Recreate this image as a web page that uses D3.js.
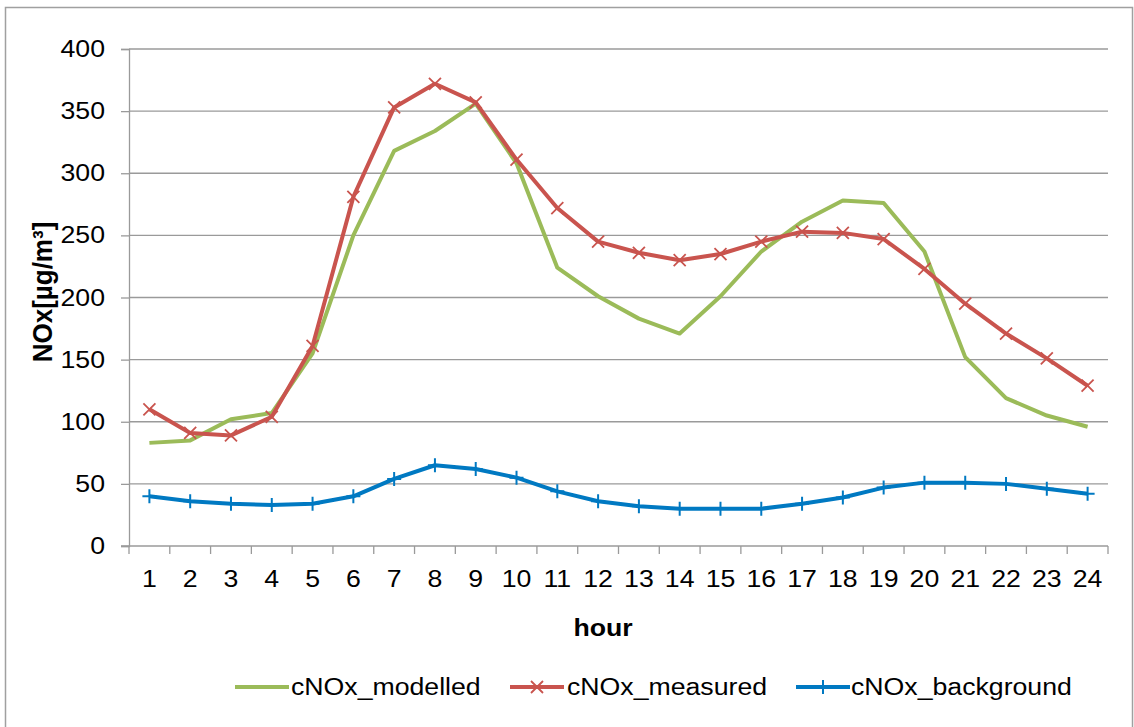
<!DOCTYPE html>
<html>
<head>
<meta charset="utf-8">
<script src="https://cdn.jsdelivr.net/npm/d3@7"></script>
<style>
  html, body { margin: 0; padding: 0; background: #fff; }
  svg { display: block; font-family: "Liberation Sans", Arial, sans-serif; }
</style>
</head>
<body>
<svg id="chart" width="1134" height="727"></svg>
<script>
// Hourly NOx concentrations
const hours = d3.range(1, 25).map(String);
const modelled = [83, 85, 102, 107, 155, 250, 318, 334, 356, 308, 224, 201, 183, 171, 201, 237, 261, 278, 276, 237, 152, 119, 105, 96];
const measured = [110, 91, 89, 104, 161, 281, 353, 372, 357, 311, 272, 245, 236, 230, 235, 245, 253, 252, 247, 223, 195, 171, 151, 129];
const background = [40, 36, 34, 33, 34, 40, 54, 65, 62, 55, 44, 36, 32, 30, 30, 30, 34, 39, 47, 51, 51, 50, 46, 42];
const yTicks = [0, 50, 100, 150, 200, 250, 300, 350, 400];

const series = [
  { name: "cNOx_modelled", values: modelled, color: "#9BBB59", marker: null },
  { name: "cNOx_measured", values: measured, color: "#C9544E", marker: "x" },
  { name: "cNOx_background", values: background, color: "#0079C2", marker: "+" }
];

const FONT = 23;      // label font size
const SX = 1.16;      // horizontal glyph stretch

const svg = d3.select("#chart");
const plot = { left: 129, right: 1108, top: 49, bottom: 546 };

// text helper: anchored at (px, py) with horizontal stretch
function label(parent, px, py, str, anchor, bold) {
  return parent.append("text")
    .attr("transform", `translate(${px},${py}) scale(${SX},1)`)
    .attr("text-anchor", anchor)
    .attr("font-size", FONT)
    .attr("font-weight", bold ? "bold" : "normal")
    .attr("fill", "#000")
    .text(str);
}

// outer frame
svg.append("rect")
  .attr("x", 5.5).attr("y", 7.5)
  .attr("width", 1127).attr("height", 740)
  .attr("fill", "none").attr("stroke", "#A0A0A0").attr("stroke-width", 1.5);

const x = d3.scaleBand().domain(hours).range([plot.left, plot.right]);
const y = d3.scaleLinear().domain([0, 400]).range([plot.bottom, plot.top]);

// horizontal gridlines
svg.append("g")
  .selectAll("line")
  .data(yTicks.filter(d => d > 0))
  .join("line")
  .attr("x1", plot.left).attr("x2", plot.right)
  .attr("y1", d => y(d)).attr("y2", d => y(d))
  .attr("stroke", "#9A9A9A").attr("stroke-width", 1.3);

// y axis (line and ticks from d3, labels drawn with stretch)
const yAxis = svg.append("g")
  .attr("transform", `translate(${plot.left},0)`)
  .call(d3.axisLeft(y).tickValues(yTicks).tickSize(8).tickFormat(""));
yAxis.select(".domain").attr("stroke", "#9A9A9A").attr("stroke-width", 1.3);
yAxis.selectAll(".tick line").attr("stroke", "#9A9A9A").attr("stroke-width", 1.3);
const yLabels = svg.append("g");
yTicks.forEach(t => label(yLabels, 105, y(t) + 8, String(t), "end", false));

// x axis: category ticks at band boundaries
const xAxisG = svg.append("g").attr("transform", `translate(0,${plot.bottom})`);
xAxisG.append("line")
  .attr("x1", plot.left - 8).attr("x2", plot.right)
  .attr("stroke", "#9A9A9A").attr("stroke-width", 1.3);
const bounds = hours.map(h => x(h)).concat([plot.right]);
xAxisG.selectAll("line.tick")
  .data(bounds)
  .join("line")
  .attr("class", "tick")
  .attr("x1", d => d).attr("x2", d => d)
  .attr("y1", 0).attr("y2", 8)
  .attr("stroke", "#9A9A9A").attr("stroke-width", 1.3);
hours.forEach(h => label(xAxisG, x(h) + x.bandwidth() / 2, 41, h, "middle", false));

// axis titles
label(svg, 603, 636, "hour", "middle", true);
svg.append("text")
  .attr("transform", "translate(52,292) rotate(-90) scale(1,1.06)")
  .attr("text-anchor", "middle")
  .attr("font-size", 26).attr("font-weight", "bold")
  .text("NOx[µg/m³]");

// series lines and markers
const cx = i => x(hours[i]) + x.bandwidth() / 2;
const line = d3.line().x((d, i) => cx(i)).y(d => y(d));

function drawMarker(g, type, px, py, color) {
  const s = 6;
  if (type === "x") {
    g.append("path")
      .attr("d", `M${px - s},${py - s}L${px + s},${py + s}M${px - s},${py + s}L${px + s},${py - s}`)
      .attr("stroke", color).attr("stroke-width", 1.8).attr("fill", "none");
  } else if (type === "+") {
    g.append("path")
      .attr("d", `M${px},${py - 7}L${px},${py + 7}M${px - 7},${py}L${px + 7},${py}`)
      .attr("stroke", color).attr("stroke-width", 2).attr("fill", "none");
  }
}

series.forEach(s => {
  const g = svg.append("g");
  g.append("path")
    .datum(s.values)
    .attr("d", line)
    .attr("fill", "none")
    .attr("stroke", s.color)
    .attr("stroke-width", 4)
    .attr("stroke-linejoin", "round");
  if (s.marker) {
    s.values.forEach((v, i) => drawMarker(g, s.marker, cx(i), y(v), s.color));
  }
});

// legend
const legendItems = [
  { x0: 235, textX: 291 },
  { x0: 510, textX: 567 },
  { x0: 796, textX: 851 }
];
const legendY = 687;
series.forEach((s, i) => {
  const li = legendItems[i];
  const g = svg.append("g");
  g.append("line")
    .attr("x1", li.x0).attr("x2", li.x0 + 54)
    .attr("y1", legendY).attr("y2", legendY)
    .attr("stroke", s.color).attr("stroke-width", 4);
  if (s.marker) drawMarker(g, s.marker, li.x0 + 27, legendY, s.color);
  label(g, li.textX, legendY + 8, s.name, "start", false);
});
</script>
</body>
</html>
